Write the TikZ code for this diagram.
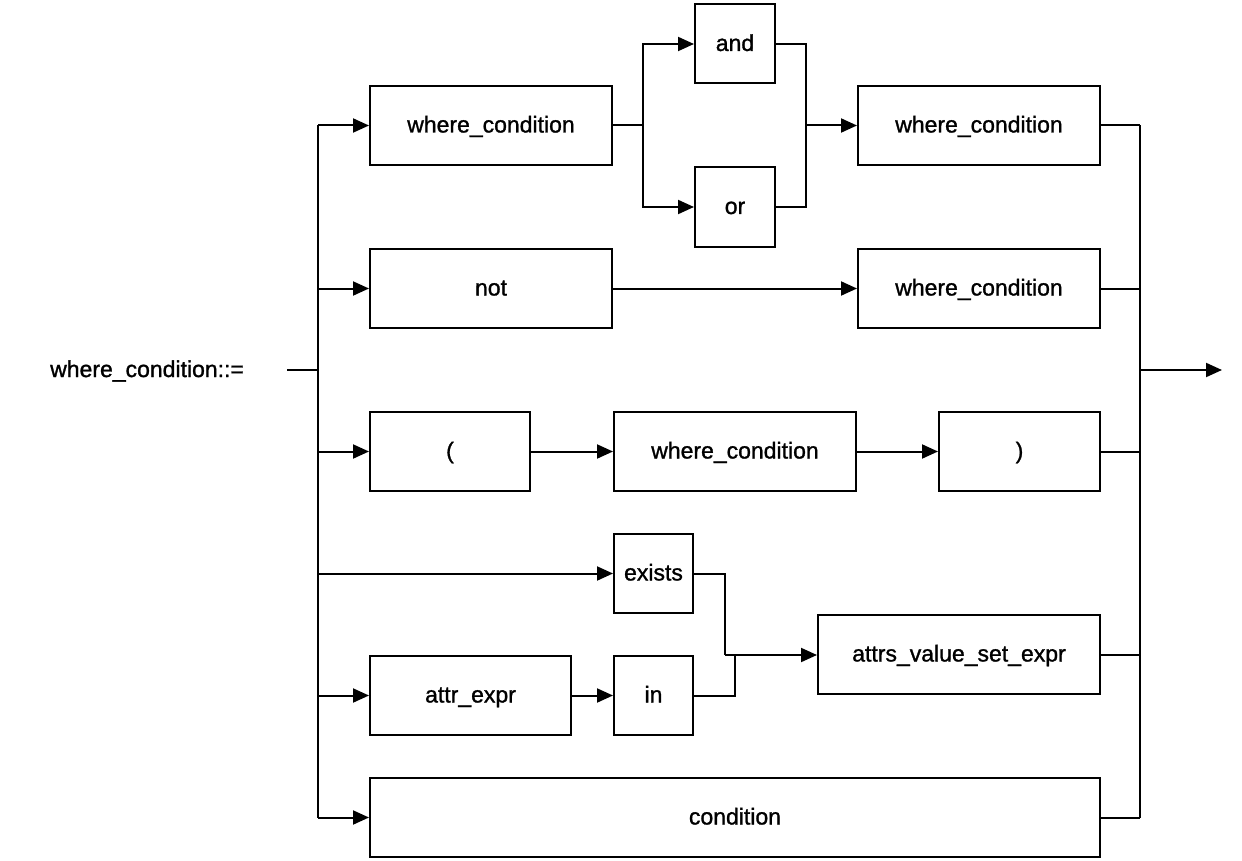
\documentclass[tikz,border=0pt]{standalone}
\usepackage{fontspec}
\setmainfont{Liberation Sans}
\newfontfamily\diafont{Liberation Sans}[FakeBold=1.2]
\usetikzlibrary{arrows.meta}
\begin{document}
\begin{tikzpicture}[x=1pt,y=-1pt,
  box/.style={draw,line width=2pt,rectangle,inner sep=0pt,minimum height=79pt,text height=17pt,text depth=3pt,font=\diafont\fontsize{23}{27}\selectfont},
  conn/.style={line width=2pt},
  arr/.style={line width=2pt,-{Triangle[length=16pt,width=14pt]}},
  lbl/.style={font=\diafont\fontsize{23}{27}\selectfont,inner sep=0pt}]
\useasboundingbox (0,0) rectangle (1242,861);
% nodes
\node[box,minimum width=242pt] (wc1) at (491,125.5) {where\_condition};
\node[box,minimum width=80pt] (and) at (735,44) {and};
\node[box,minimum width=80pt] (or) at (735,207) {or};
\node[box,minimum width=242pt] (wc2) at (979,125.5) {where\_condition};
\node[box,minimum width=242pt] (not) at (491,288.5) {not};
\node[box,minimum width=242pt] (wc3) at (979,288.5) {where\_condition};
\node[box,minimum width=160pt] (lp) at (450,451.5) {(};
\node[box,minimum width=242pt] (wc4) at (735,451.5) {where\_condition};
\node[box,minimum width=161pt] (rp) at (1019.5,451.5) {)};
\node[box,minimum width=79pt] (exists) at (653.5,573.5) {exists};
\node[box,minimum width=282pt] (attrs) at (959,654.5) {attrs\_value\_set\_expr};
\node[box,minimum width=201pt] (attr) at (470.5,695.5) {attr\_expr};
\node[box,minimum width=79pt] (in) at (653.5,695.5) {in};
\node[box,minimum width=730pt] (cond) at (735,817.5) {condition};
\node[lbl,anchor=west] (title) at (50,371) {where\_condition::=};
% coordinates
\coordinate (start) at (287,370);
\coordinate (busL) at (318,370);
\coordinate (busR) at (1140,370);
\coordinate (out) at (1222,370);
\coordinate (sp) at (643,125.5);
\coordinate (mg) at (806,125.5);
\coordinate (m1) at (725,655);
\coordinate (m2) at (735,655);
% buses
\draw[conn] (busL |- wc1.west) -- (busL |- cond.west);
\draw[conn] (busR |- wc2.east) -- (busR |- cond.east);
\draw[conn] (start) -- (busL);
\draw[arr] (busR) -- (out);
% left branches
\draw[arr] (busL |- wc1.west) -- (wc1.west);
\draw[arr] (busL |- not.west) -- (not.west);
\draw[arr] (busL |- lp.west) -- (lp.west);
\draw[arr] (busL |- exists.west) -- (exists.west);
\draw[arr] (busL |- attr.west) -- (attr.west);
\draw[arr] (busL |- cond.west) -- (cond.west);
% right branches
\draw[conn] (wc2.east) -- (busR |- wc2.east);
\draw[conn] (wc3.east) -- (busR |- wc3.east);
\draw[conn] (rp.east) -- (busR |- rp.east);
\draw[conn] (attrs.east) -- (busR |- attrs.east);
\draw[conn] (cond.east) -- (busR |- cond.east);
% row 1
\draw[conn] (wc1.east) -- (sp);
\draw[arr] (sp) |- (and.west);
\draw[arr] (sp) |- (or.west);
\draw[conn] (and.east) -| (mg);
\draw[conn] (or.east) -| (mg);
\draw[arr] (mg) -- (wc2.west);
% row 2
\draw[arr] (not.east) -- (wc3.west);
% row 3
\draw[arr] (lp.east) -- (wc4.west);
\draw[arr] (wc4.east) -- (rp.west);
% rows 4-5
\draw[conn] (exists.east) -| (m1);
\draw[arr] (m1) -- (attrs.west |- m1);
\draw[conn] (in.east) -| (m2);
\draw[arr] (attr.east) -- (in.west);
\end{tikzpicture}
\end{document}
